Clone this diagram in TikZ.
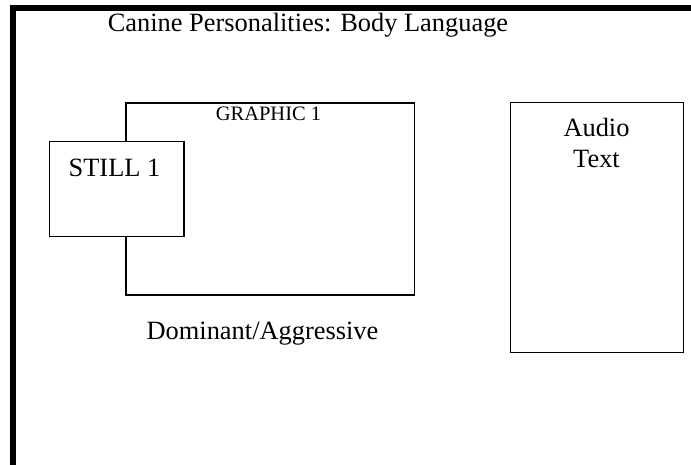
\documentclass[tikz,border=0pt]{standalone}
\usepackage{fontspec}
\setmainfont{Liberation Serif}
\begin{document}
\begin{tikzpicture}[x=1pt,y=-1pt,
  box/.style={draw, line width=1.5pt, fill=white, inner sep=0pt},
  big/.style={font=\fontsize{26.4}{31}\selectfont, inner sep=0pt},
  small/.style={font=\fontsize{20.5}{24}\selectfont, inner sep=0pt}]
\useasboundingbox (0,0) rectangle (691,465);
% heavy page frame: left and top edges
\draw[line width=5.5pt] (13,480) -- (13,8) -- (710,8);
% slide title
\node[big, anchor=base] (title) at (308,31.5) {Canine Personalities: Body Language};
% graphic area with the still image laid over it
\node[box, minimum width=288.7pt, minimum height=192pt] (graphic) at (270.3,199) {};
\node[small, anchor=base] (graphiclabel) at (268.5,120.7) {GRAPHIC 1};
\node[box, minimum width=134.5pt, minimum height=95pt] (still) at (116.8,189.2) {};
\node[big, anchor=base] (stilllabel) at (114.5,177) {STILL 1};
% caption under the graphic
\node[big, anchor=base] (caption) at (262.5,339) {Dominant/Aggressive};
% narration column
\node[box, minimum width=173.4pt, minimum height=250pt] (audio) at (597,227.7) {};
\node[big, anchor=base, align=center] (audiolabel) at (596.5,167.7) {Audio\\Text};
\end{tikzpicture}
\end{document}
